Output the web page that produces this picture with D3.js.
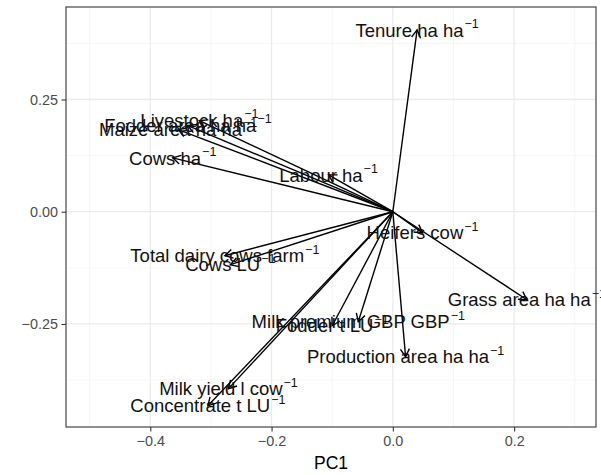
<!DOCTYPE html>
<html>
<head>
<meta charset="utf-8">
<script src="https://cdn.jsdelivr.net/npm/d3@7"></script>
<style>
  body { margin: 0; background: #fff; }
  text { font-family: "Liberation Sans", Arial, sans-serif; }
</style>
</head>
<body>
<svg id="chart"></svg>
<script>
// loadings (PC1, PC2)
var vars = ["Tenure ha ha", "Livestock ha", "Fodder area ha ha", "Maize area ha ha", "Cows ha",
  "Labour ha", "Heifers cow", "Grass area ha ha", "Production area ha ha", "Milk premium GBP GBP",
  "Fodder t LU", "Total dairy cows farm", "Cows LU", "Milk yield l cow", "Concentrate t LU"];
var pc1 = [0.040, -0.319, -0.338, -0.354, -0.363, -0.106, 0.049, 0.221, 0.021, -0.057, -0.100, -0.277, -0.268, -0.271, -0.305];
var pc2 = [0.405, 0.203, 0.192, 0.183, 0.120, 0.082, -0.047, -0.196, -0.323, -0.245, -0.254, -0.098, -0.118, -0.394, -0.432];
var xTicks = [-0.4, -0.2, 0.0, 0.2];
var yTicks = [-0.25, 0.00, 0.25];
var xMinor = [-0.5, -0.3, -0.1, 0.1, 0.3];
var yMinor = [-0.375, -0.125, 0.125, 0.375];

var svgWidth = 601, svgHeight = 475;
var margin = {top: 7, right: 5, bottom: 48, left: 66};
var width = svgWidth - margin.left - margin.right;
var height = svgHeight - margin.top - margin.bottom;

var svg = d3.select("#chart").attr("width", svgWidth).attr("height", svgHeight);
var g = svg.append("g").attr("transform", "translate(" + margin.left + "," + margin.top + ")");

var x = d3.scaleLinear().domain([-0.539, 0.335]).range([0, width]);
var y = d3.scaleLinear().domain([-0.4795, 0.456]).range([height, 0]);

// grid
g.selectAll(".xminor").data(xMinor).enter().append("line")
  .attr("x1", d => x(d)).attr("x2", d => x(d)).attr("y1", 0).attr("y2", height)
  .attr("stroke", "#f1f1f1").attr("stroke-width", 0.7);
g.selectAll(".yminor").data(yMinor).enter().append("line")
  .attr("y1", d => y(d)).attr("y2", d => y(d)).attr("x1", 0).attr("x2", width)
  .attr("stroke", "#f1f1f1").attr("stroke-width", 0.7);
g.selectAll(".xmajor").data(xTicks).enter().append("line")
  .attr("x1", d => x(d)).attr("x2", d => x(d)).attr("y1", 0).attr("y2", height)
  .attr("stroke", "#ebebeb").attr("stroke-width", 1.3);
g.selectAll(".ymajor").data(yTicks).enter().append("line")
  .attr("y1", d => y(d)).attr("y2", d => y(d)).attr("x1", 0).attr("x2", width)
  .attr("stroke", "#ebebeb").attr("stroke-width", 1.3);

// arrows
var x0 = x(0), y0 = y(0);
var headLen = 9, headAng = Math.PI / 6;
pc1.forEach(function(v, i) {
  var tx = x(v), ty = y(pc2[i]);
  g.append("line").attr("x1", x0).attr("y1", y0).attr("x2", tx).attr("y2", ty)
    .attr("stroke", "#000").attr("stroke-width", 1.4);
  var a = Math.atan2(ty - y0, tx - x0);
  var pts = [[tx - headLen * Math.cos(a - headAng), ty - headLen * Math.sin(a - headAng)], [tx, ty],
    [tx - headLen * Math.cos(a + headAng), ty - headLen * Math.sin(a + headAng)]];
  g.append("path").attr("d", d3.line()(pts)).attr("fill", "none")
    .attr("stroke", "#000").attr("stroke-width", 1.4);
});

// labels
pc1.forEach(function(v, i) {
  var t = g.append("text").attr("x", x(v)).attr("y", y(pc2[i])).attr("dy", "0.36em")
    .attr("text-anchor", "middle").attr("font-size", "18.5px").attr("fill", "#111");
  t.append("tspan").text(vars[i]);
  t.append("tspan").attr("font-size", "12.5px").attr("dy", "-0.7em").attr("dx", "1").text("\u22121");
});

// border
g.append("rect").attr("width", width).attr("height", height)
  .attr("fill", "none").attr("stroke", "#333").attr("stroke-width", 1.1);

// axes
var xAxis = g.append("g").attr("transform", "translate(0," + height + ")")
  .call(d3.axisBottom(x).tickValues(xTicks).tickSize(4.5));
var yAxis = g.append("g")
  .call(d3.axisLeft(y).tickValues(yTicks).tickSize(4.5));
function fmt(p) {
  return function(d) { return (d < 0 ? "\u2212" : "") + d3.format(p)(Math.abs(d)); };
}
xAxis.selectAll(".tick text").text(fmt(".1f")).attr("y", 6).attr("dy", "0.9em");
yAxis.selectAll(".tick text").text(fmt(".2f")).attr("x", -8);
[xAxis, yAxis].forEach(function(ax) {
  ax.select(".domain").remove();
  ax.selectAll(".tick line").attr("stroke", "#333").attr("stroke-width", 1.1);
  ax.selectAll(".tick text").attr("fill", "#4d4d4d").attr("font-size", "14.4px")
    .attr("font-family", "Liberation Sans, Arial, sans-serif");
});

svg.append("text").attr("x", margin.left + width / 2).attr("y", 469)
  .attr("text-anchor", "middle").attr("font-size", "17.5px").attr("fill", "#000").text("PC1");
</script>
</body>
</html>
